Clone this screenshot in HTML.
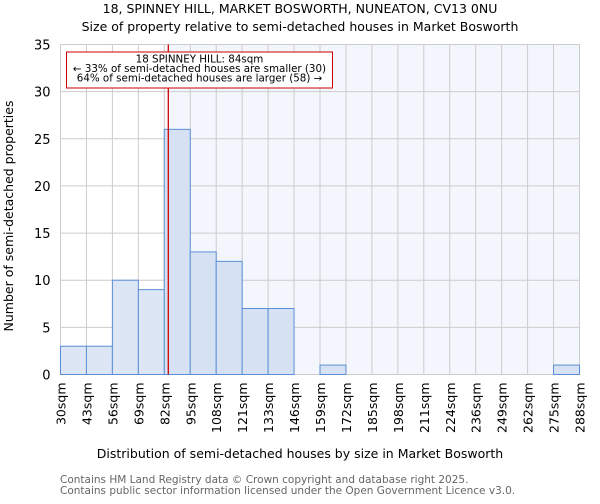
<!DOCTYPE html>
<html><head><meta charset="utf-8"><style>
body{margin:0;background:#fff;font-family:"DejaVu Sans","Liberation Sans",sans-serif;}
</style></head><body>
<svg id="chart" width="600" height="500" xmlns="http://www.w3.org/2000/svg" font-family="DejaVu Sans, Liberation Sans, sans-serif">
<text x="300" y="13" text-anchor="middle" font-size="12.5">18, SPINNEY HILL, MARKET BOSWORTH, NUNEATON, CV13 0NU</text>
<text x="300" y="31" text-anchor="middle" font-size="12.5">Size of property relative to semi-detached houses in Market Bosworth</text>
<g id="plot"></g>
<text x="300" y="458" text-anchor="middle" font-size="12.5">Distribution of semi-detached houses by size in Market Bosworth</text>
<text transform="translate(13,216) rotate(-90)" text-anchor="middle" font-size="12.5">Number of semi-detached properties</text>
<text x="60" y="483" font-size="10.5" fill="#666">Contains HM Land Registry data © Crown copyright and database right 2025.</text>
<text x="60" y="494" font-size="10.5" fill="#666">Contains public sector information licensed under the Open Government Licence v3.0.</text>
</svg>
<script>
const binLabels=["30sqm","43sqm","56sqm","69sqm","82sqm","95sqm","108sqm","121sqm","133sqm","146sqm","159sqm","172sqm","185sqm","198sqm","211sqm","224sqm","236sqm","249sqm","262sqm","275sqm","288sqm"];
const counts=[3,3,10,9,26,13,12,7,7,0,1,0,0,0,0,0,0,0,0,1];
const yTicks=[0,5,10,15,20,25,30,35];
const propertySize=84;
const L=60.5,R=579.5,T=44.5,B=374.5,yMax=35;
const NS="http://www.w3.org/2000/svg";
const g=document.getElementById('plot');
const n=counts.length, bw=(R-L)/n;
const xi=i=>L+i*bw;
const xs=v=>{
  for(let i=0;i<n;i++){const a=parseFloat(binLabels[i]),b=parseFloat(binLabels[i+1]);if(v>=a&&v<=b)return xi(i)+(v-a)/(b-a)*bw;}return R;};
const y=v=>B-(v/yMax)*(B-T);
function el(t,a){const e=document.createElementNS(NS,t);for(const k in a)e.setAttribute(k,a[k]);g.appendChild(e);return e;}
const px=xs(propertySize);
let e=el('rect',{x:px,y:T,width:R-px,height:B-T,fill:'#f3f6fd'});


for(let i=0;i<=n;i++){e=el('line',{x1:xi(i),x2:xi(i),y1:T,y2:B,stroke:'#ccc','stroke-width':1});

}
yTicks.forEach(t=>{e=el('line',{x1:L,x2:R,y1:y(t),y2:y(t),stroke:'#ccc','stroke-width':1});


const tx=el('text',{x:L-10,y:y(t)+5,'text-anchor':'end','font-size':'13'});tx.textContent=t;

});
counts.forEach((c,i)=>{if(c<=0)return;const r=el('rect',{x:xi(i),y:y(c),width:bw,height:B-y(c),fill:i<4?'#dce6f4':'#d6e2f3',stroke:'#5b8fd6','stroke-width':1});

});
binLabels.forEach((l,i)=>{const t=el('text',{transform:`translate(${xi(i)+5},${B+8}) rotate(-90)`,'text-anchor':'end','font-size':'12.5'});t.textContent=l;

});
e=el('line',{x1:px,x2:px,y1:T,y2:B,stroke:'#cc0000','stroke-width':1.3});


e=el('rect',{x:66.5,y:52,width:266,height:36,fill:'#fff',stroke:'#cc0000','stroke-width':1});


["18 SPINNEY HILL: 84sqm","← 33% of semi-detached houses are smaller (30)","64% of semi-detached houses are larger (58) →"].forEach((s,k)=>{const t=el('text',{x:199.5,y:62.5+k*9.5,'text-anchor':'middle','font-size':'10.3'});t.textContent=s;

});
</script>
</body></html>
